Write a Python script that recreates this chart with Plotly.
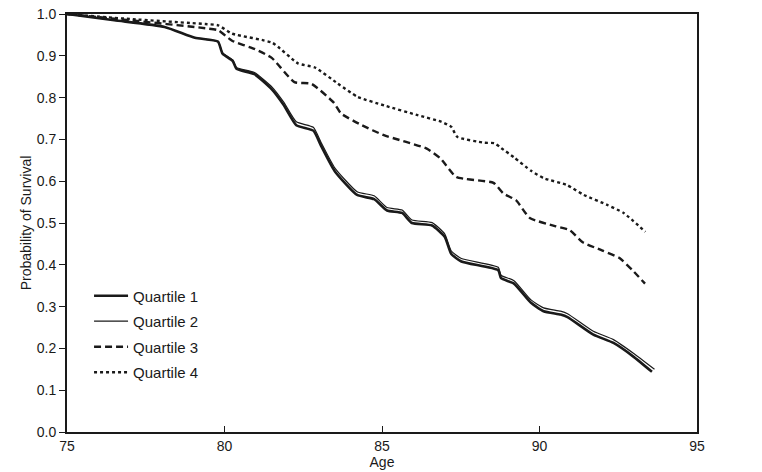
import plotly.graph_objects as go

# survival curves (age, probability)
age_q1 = [75.0, 76.5, 78.1, 79.06, 79.79, 79.94, 80.26, 80.38, 80.95, 81.51, 81.88,
          82.28, 82.82, 83.07, 83.5, 84.21, 84.75, 85.16, 85.64, 85.95, 86.59, 86.99,
          87.2, 87.52, 88.69, 88.78, 89.19, 89.73, 90.13, 90.67, 90.89, 91.71, 92.35,
          92.97, 93.57]
surv_q1 = [1.0, 0.985, 0.969, 0.943, 0.934, 0.905, 0.888, 0.869, 0.856, 0.819, 0.782,
           0.734, 0.721, 0.684, 0.624, 0.567, 0.557, 0.530, 0.524, 0.500, 0.494, 0.467,
           0.426, 0.408, 0.387, 0.368, 0.355, 0.309, 0.289, 0.281, 0.275, 0.233, 0.213,
           0.181, 0.144]

age_q2 = [75.0, 76.5, 78.1, 79.06, 79.79, 79.94, 80.26, 80.38, 80.95, 81.51, 81.88,
          82.28, 82.82, 83.07, 83.5, 84.21, 84.75, 85.16, 85.64, 85.95, 86.59, 86.99,
          87.2, 87.52, 88.69, 88.78, 89.19, 89.73, 90.13, 90.67, 90.89, 91.71, 92.35,
          92.97, 93.65]
surv_q2 = [1.0, 0.985, 0.969, 0.943, 0.934, 0.907, 0.890, 0.872, 0.860, 0.825, 0.789,
           0.742, 0.729, 0.692, 0.632, 0.575, 0.565, 0.537, 0.531, 0.507, 0.501, 0.474,
           0.433, 0.415, 0.394, 0.375, 0.362, 0.316, 0.297, 0.289, 0.283, 0.241, 0.221,
           0.189, 0.150]

age_q3 = [75.0, 77.0, 79.39, 79.8, 80.24, 80.97, 81.5, 82.22, 82.76, 83.48, 83.7,
          84.33, 85.06, 86.42, 86.86, 87.36, 88.54, 88.85, 89.26, 89.69, 90.52, 90.96,
          91.37, 92.0, 92.54, 92.95, 93.35]
surv_q3 = [1.0, 0.985, 0.966, 0.961, 0.936, 0.916, 0.895, 0.837, 0.833, 0.787, 0.762,
           0.735, 0.710, 0.678, 0.654, 0.610, 0.596, 0.571, 0.554, 0.512, 0.492, 0.483,
           0.454, 0.434, 0.416, 0.387, 0.355]

age_q4 = [75.0, 77.0, 79.39, 79.8, 80.24, 81.52, 82.33, 82.87, 83.59, 84.22, 85.08,
          86.13, 86.89, 87.2, 87.39, 88.25, 88.57, 88.79, 89.19, 89.73, 90.14, 90.87,
          91.41, 92.13, 92.67, 93.36]
surv_q4 = [1.0, 0.988, 0.976, 0.973, 0.953, 0.931, 0.882, 0.872, 0.834, 0.802, 0.781,
           0.758, 0.742, 0.730, 0.706, 0.692, 0.691, 0.679, 0.657, 0.625, 0.607, 0.591,
           0.567, 0.544, 0.524, 0.479]

x_ticks = [75, 80, 85, 90, 95]
y_ticks = [0.0, 0.1, 0.2, 0.3, 0.4, 0.5, 0.6, 0.7, 0.8, 0.9, 1.0]

ink = '#1a1a1a'
font_name = 'Liberation Sans, Arial, sans-serif'

fig = go.Figure()

# each quartile gets its own line style like the printed figure
styles = [
    ('Quartile 1', age_q1, surv_q1, 2.6, 'solid'),
    ('Quartile 2', age_q2, surv_q2, 1.2, 'solid'),
    ('Quartile 3', age_q3, surv_q3, 2.4, '7px,4px'),
    ('Quartile 4', age_q4, surv_q4, 2.4, '3px,3px'),
]
for name, xs, ys, w, dash in styles:
    fig.add_trace(go.Scatter(x=xs, y=ys, mode='lines', name=name,
                             legendgroup=name,
                             line=dict(color=ink, width=w, dash=dash,
                                       shape='spline', smoothing=0.5)))

fig.update_layout(
    width=762, height=472,
    margin=dict(l=67, r=65, t=14, b=40, autoexpand=False),
    paper_bgcolor='white', plot_bgcolor='white',
    font=dict(family=font_name, size=14, color=ink),
    showlegend=True,
    legend=dict(x=0.035, y=0.365, xanchor='left', yanchor='top',
                bgcolor='rgba(0,0,0,0)', traceorder='grouped',
                tracegroupgap=3, itemwidth=34,
                font=dict(family=font_name, size=15, color=ink)),
)

fig.update_xaxes(
    range=[75, 95], tickvals=x_ticks, ticktext=[str(t) for t in x_ticks],
    ticks='inside', ticklen=6, tickwidth=1.2, tickcolor=ink,
    showline=True, linecolor=ink, linewidth=1.8, mirror=True,
    showgrid=False, zeroline=False,
    title=dict(text='Age', standoff=0, font=dict(size=14)),
)
fig.update_yaxes(
    range=[0, 1], tickvals=y_ticks, ticktext=['%.1f' % t for t in y_ticks],
    ticks='outside', ticklen=6, tickwidth=1.2, tickcolor=ink,
    showline=True, linecolor=ink, linewidth=1.8, mirror=True,
    showgrid=False, zeroline=False,
    title=dict(text='Probability of Survival', standoff=2, font=dict(size=14)),
)

# drop the default page margin so the figure fills the window exactly
fig.write_html('out.html', config={'displayModeBar': False},
               post_script="document.body.style.margin='0';")
